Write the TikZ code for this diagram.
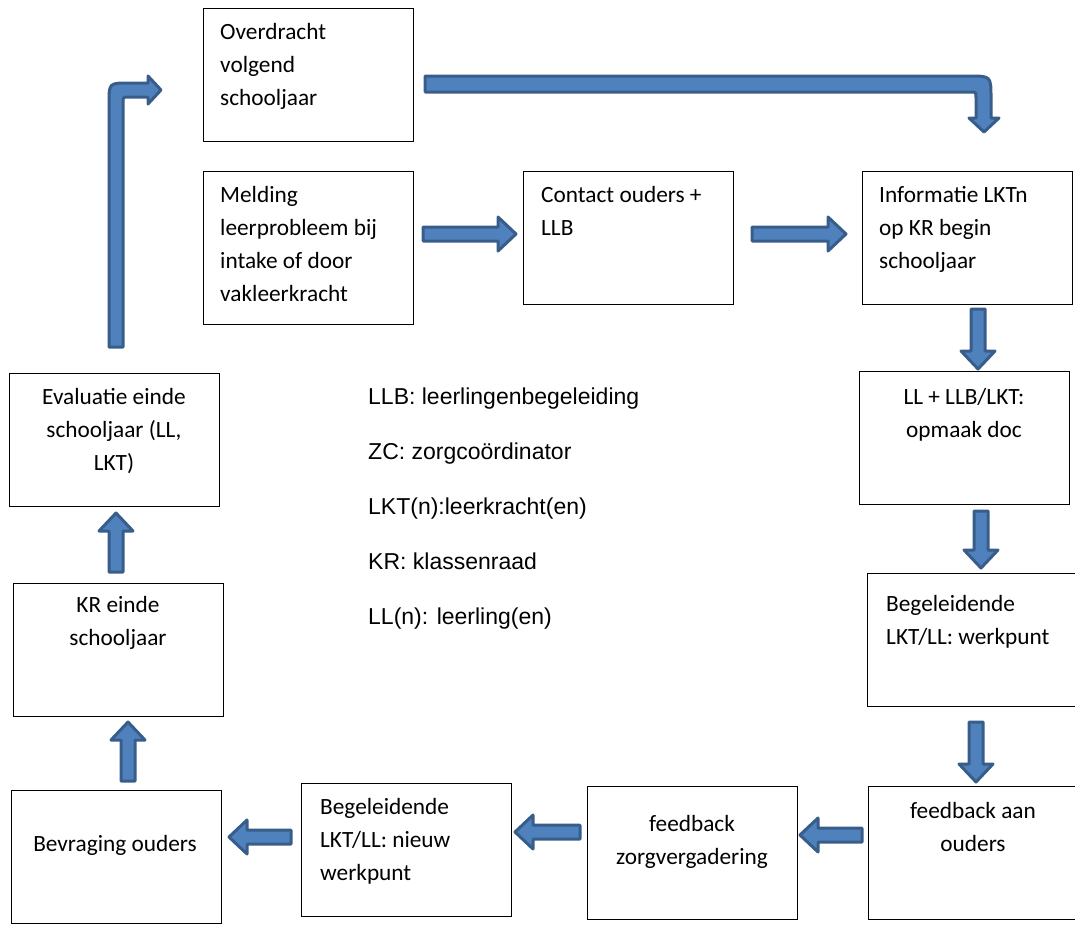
\documentclass[tikz,border=0pt]{standalone}
\usepackage{fontspec}
\setmainfont{Carlito}
\newfontfamily\legendfont{Liberation Sans}
\definecolor{arrfill}{HTML}{4F81BD}
\definecolor{arrdraw}{HTML}{385D8A}
\tikzset{
  box/.style={draw=black, line width=1pt, fill=white, minimum width=210pt, minimum height=133pt, inner sep=0pt},
  boxtxt/.style={inner sep=0pt, font=\fontsize{23.3}{33}\selectfont},
  legtxt/.style={inner sep=0pt, anchor=base west, font=\legendfont\fontsize{23}{27}\selectfont},
  barrow/.style={fill=arrfill, draw=arrdraw, line width=3pt, line join=round},
}
% straight block arrows: right/left (x from, x tip, y centre), down/up (x centre, y from, y tip)
\newcommand\rarr[3]{\draw[barrow] ({#1},{#3-7}) -- ({#2-18},{#3-7}) -- ({#2-18},{#3-17}) -- ({#2},{#3}) -- ({#2-18},{#3+17}) -- ({#2-18},{#3+7}) -- ({#1},{#3+7}) -- cycle;}
\newcommand\larr[3]{\draw[barrow] ({#1},{#3-7}) -- ({#2+18},{#3-7}) -- ({#2+18},{#3-17}) -- ({#2},{#3}) -- ({#2+18},{#3+17}) -- ({#2+18},{#3+7}) -- ({#1},{#3+7}) -- cycle;}
\newcommand\darr[3]{\draw[barrow] ({#1-7},{#2}) -- ({#1-7},{#3-18}) -- ({#1-17},{#3-18}) -- ({#1},{#3}) -- ({#1+17},{#3-18}) -- ({#1+7},{#3-18}) -- ({#1+7},{#2}) -- cycle;}
\newcommand\uarr[3]{\draw[barrow] ({#1-7},{#2}) -- ({#1-7},{#3+18}) -- ({#1-17},{#3+18}) -- ({#1},{#3}) -- ({#1+17},{#3+18}) -- ({#1+7},{#3+18}) -- ({#1+7},{#2}) -- cycle;}
\begin{document}
\begin{tikzpicture}[x=1pt, y=-1pt]
\useasboundingbox (0,0) rectangle (1075,924);
% boxes
\node[box] (b1) at (308,74.5) {};
\node[box, minimum height=153pt] (b2) at (308,247.5) {};
\node[box] (b3) at (628,237.5) {};
\node[box] (b4) at (967,237.5) {};
\node[box] (b5) at (964,437.5) {};
\node[box] (b6) at (972,639.5) {};
\node[box] (b7) at (973,852.5) {};
\node[box] (b8) at (692,852.5) {};
\node[box] (b9) at (406,849.5) {};
\node[box] (b10) at (116,856.5) {};
\node[box] (b11) at (118,649.5) {};
\node[box] (b12) at (114,439.5) {};
% texts (anchor = baseline of the last line)
\node[boxtxt, anchor=base west, align=left] (t1) at (220,105) {Overdracht\\volgend\\schooljaar};
\node[boxtxt, anchor=base west, align=left] (t2) at (220,301) {Melding\\leerprobleem bij\\intake of door\\vakleerkracht};
\node[boxtxt, anchor=base west, align=left] (t3) at (541,235) {Contact ouders +\\LLB};
\node[boxtxt, anchor=base west, align=left] (t4) at (879,268) {Informatie LKTn\\op KR begin\\schooljaar};
\node[boxtxt, anchor=base, align=center] (t5) at (964,437) {LL + LLB/LKT:\\opmaak doc};
\node[boxtxt, anchor=base west, align=left] (t6) at (886,644) {Begeleidende\\LKT/LL: werkpunt};
\node[boxtxt, anchor=base, align=center] (t7) at (973,851) {feedback aan\\ouders};
\node[boxtxt, anchor=base, align=center] (t8) at (692,864) {feedback\\zorgvergadering};
\node[boxtxt, anchor=base west, align=left] (t9) at (320,880) {Begeleidende\\LKT/LL: nieuw\\werkpunt};
\node[boxtxt, anchor=base, align=center] (t10) at (115,851) {Bevraging ouders};
\node[boxtxt, anchor=base, align=center] (t11) at (118,645) {KR einde\\schooljaar};
\node[boxtxt, anchor=base, align=center] (t12) at (114,470) {Evaluatie einde\\schooljaar (LL,\\LKT)};
% legend
\node[legtxt] (l1) at (368,404) {LLB: leerlingenbegeleiding};
\node[legtxt] (l2) at (368,459) {ZC: zorgcoördinator};
\node[legtxt] (l3) at (368,514) {LKT(n):leerkracht(en)};
\node[legtxt] (l4) at (368,569) {KR: klassenraad};
\node[legtxt] (l5) at (368,624) {LL(n): leerling(en)};
% straight arrows
\rarr{423}{516}{234}
\rarr{752}{846}{234}
\darr{978}{309}{369}
\darr{981}{511}{568}
\darr{976}{722}{782}
\larr{862}{800}{835}
\larr{580}{515}{832}
\larr{291}{229}{837}
\uarr{128}{781}{722}
\uarr{116}{572}{513}
% bent arrow left (up then right)
\draw[barrow] (109,347) -- (109,103) .. controls (109,83) .. (129,83) -- (148,83) -- (148,76) -- (161,90) -- (148,104) -- (148,97) -- (129,97) .. controls (123,97) .. (123,103) -- (123,347) -- cycle;
% bent arrow top (right then down)
\draw[barrow] (425,76) -- (969,76) .. controls (991,76) .. (991,98) -- (991,118) -- (999,118) -- (984,132) -- (969,118) -- (976,118) -- (976,98) .. controls (976,92) .. (970,92) -- (425,92) -- cycle;
\end{tikzpicture}
\end{document}
